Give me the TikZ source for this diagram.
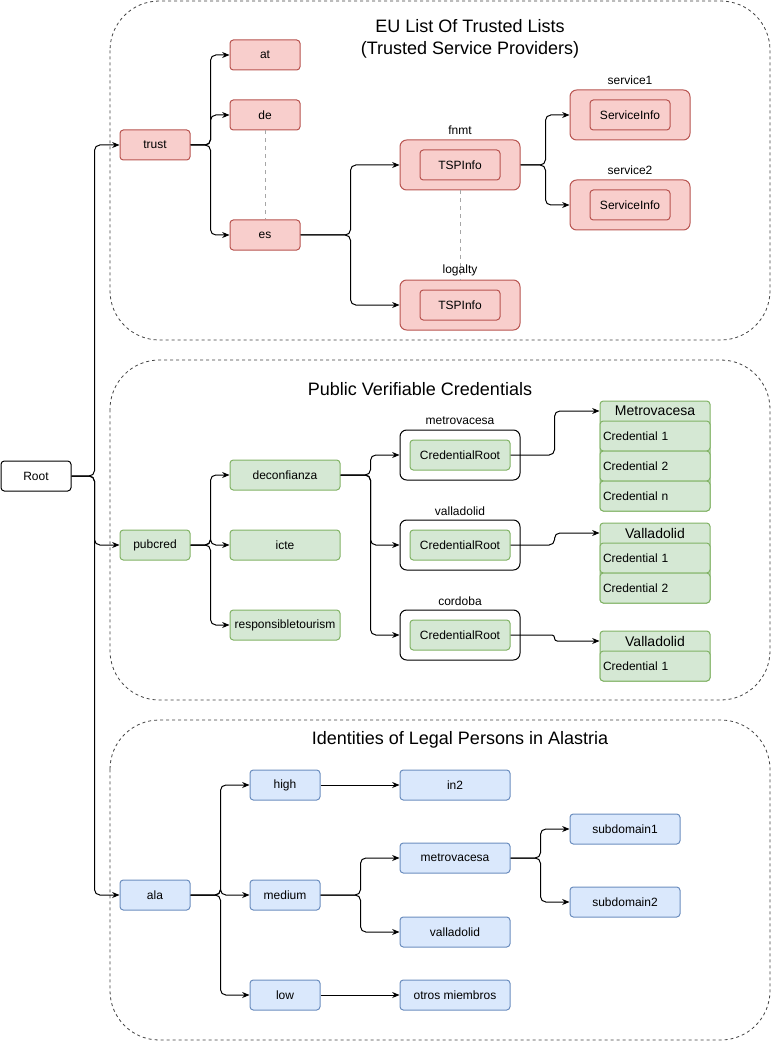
\documentclass[tikz,border=0pt]{standalone}
\usepackage{fontspec}
\setmainfont{Liberation Sans}
\usetikzlibrary{arrows.meta}
\definecolor{redfill}{HTML}{F8CECC}
\definecolor{redline}{HTML}{B85450}
\definecolor{greenfill}{HTML}{D5E8D4}
\definecolor{greenline}{HTML}{82B366}
\definecolor{bluefill}{HTML}{DAE8FC}
\definecolor{blueline}{HTML}{6C8EBF}
\begin{document}
\begin{tikzpicture}[x=0.75pt, y=-0.75pt, line width=0.75pt,
	font=\fontsize{9}{11}\selectfont,
	group/.style={draw=black!75, line width=0.6pt, dash pattern=on 2.25pt off 2.25pt, rounded corners=37pt},
	title/.style={font=\fontsize{13.5}{16.5}\selectfont, align=center},
	box/.style={draw, rounded corners=2.5pt, minimum height=22.5pt, inner sep=1pt},
	small/.style={box, minimum width=52.5pt},
	wide/.style={box, minimum width=82.5pt},
	outer/.style={draw, rounded corners=5pt, minimum width=90pt, minimum height=37.5pt},
	red/.style={draw=redline, fill=redfill},
	green/.style={draw=greenline, fill=greenfill},
	blue/.style={draw=blueline, fill=bluefill},
	row/.style={draw=greenline, fill=greenfill, rounded corners=2.5pt, minimum height=22.5pt,
		text width=78pt, inner xsep=2.25pt, align=left},
	head/.style={minimum width=82.5pt, minimum height=15pt, inner sep=0pt, font=\fontsize{10.5}{12}\selectfont},
	link/.style={-{Stealth[length=5.5pt, width=4.5pt]}, rounded corners=4pt},
	tie/.style={draw=gray!70, line width=0.5pt, dashed}
]
\useasboundingbox (0,0) rectangle (771,1041);

% groups
\draw[group] (110,1) rectangle (770,340);
\draw[group] (110,360) rectangle (770,700);
\draw[group] (110,720) rectangle (770,1040);
\node[title] (eutitle) at (470,39) {EU List Of Trusted Lists\\(Trusted Service Providers)};
\node[title] (pvtitle) at (420,389) {Public Verifiable Credentials};
\node[title] (idtitle) at (460,740) {Identities of Legal Persons in Alastria};

\node[small, fill=white] (root) at (36,476) {Root};

% trusted lists
\node[small, red] (trust) at (155,145) {trust};
\node[small, red] (tlat) at (265,55) {at};
\node[small, red] (tlde) at (265,115) {de};
\node[small, red] (tles) at (265,235) {es};
\draw[tie] (tlde.south) -- (tles.north);
\node[outer, red] (fnmt) at (460,165) {};
\node[box, red, minimum width=60pt] (fnmtinfo) at (460,165) {TSPInfo};
\node[outer, red] (logalty) at (460,305) {};
\node[box, red, minimum width=60pt] (logaltyinfo) at (460,305) {TSPInfo};
\draw[tie] (fnmt.south) -- (logalty.north);
\node (fnmtlab) at (460,130) {fnmt};
\node (logaltylab) at (460,270) {logalty};
\node[outer, red] (service1) at (630,115) {};
\node[box, red, minimum width=60pt] (service1info) at (630,115) {ServiceInfo};
\node (service1lab) at (630,80) {service1};
\node[outer, red] (service2) at (630,205) {};
\node[box, red, minimum width=60pt] (service2info) at (630,205) {ServiceInfo};
\node (service2lab) at (630,170) {service2};

% credentials
\node[small, green] (pubcred) at (155,545) {pubcred};
\node[wide, green] (deconfianza) at (285,475) {deconfianza};
\node[wide, green] (icte) at (285,545) {icte};
\node[wide, green] (resptour) at (285,625) {responsibletourism};
\node[outer, fill=white] (mvbox) at (460,455) {};
\node[box, green, minimum width=75pt] (mvroot) at (460,455) {CredentialRoot};
\node (mvlab) at (460,421) {metrovacesa};
\node[outer, fill=white] (vdbox) at (460,545) {};
\node[box, green, minimum width=75pt] (vdroot) at (460,545) {CredentialRoot};
\node (vdlab) at (460,511) {valladolid};
\node[outer, fill=white] (cdbox) at (460,635) {};
\node[box, green, minimum width=75pt] (cdroot) at (460,635) {CredentialRoot};
\node (cdlab) at (460,601) {cordoba};

\node[box, green, minimum width=82.5pt, minimum height=82.5pt] (mvlist) at (655,456) {};
\node[head] (mvhead) at (655,411) {Metrovacesa};
\node[row] (mvc1) at (655,436) {Credential 1};
\node[row] (mvc2) at (655,466) {Credential 2};
\node[row] (mvcn) at (655,496) {Credential n};
\node[box, green, minimum width=82.5pt, minimum height=60pt] (vdlist) at (655,563) {};
\node[head] (vdhead) at (655,533) {Valladolid};
\node[row] (vdc1) at (655,558) {Credential 1};
\node[row] (vdc2) at (655,588) {Credential 2};
\node[box, green, minimum width=82.5pt, minimum height=37.5pt] (cdlist) at (655,656) {};
\node[head] (cdhead) at (655,641) {Valladolid};
\node[row] (cdc1) at (655,666) {Credential 1};

% legal persons
\node[small, blue] (ala) at (155,895) {ala};
\node[small, blue] (high) at (285,785) {high};
\node[small, blue] (medium) at (285,895) {medium};
\node[small, blue] (low) at (285,995) {low};
\node[wide, blue] (in2) at (455,785) {in2};
\node[wide, blue] (metro) at (455,858) {metrovacesa};
\node[wide, blue] (valla) at (455,932) {valladolid};
\node[wide, blue] (otros) at (455,995) {otros miembros};
\node[wide, blue] (sub1) at (625,829) {subdomain1};
\node[wide, blue] (sub2) at (625,902) {subdomain2};

% connectors
\draw[link] (root.east) -- ++(23,0) |- (trust.west);
\draw[link] (root.east) -- ++(23,0) |- (pubcred.west);
\draw[link] (root.east) -- ++(23,0) |- (ala.west);

\draw[link] (trust.east) -- ++(20,0) |- (tlat.west);
\draw[link] (trust.east) -- ++(20,0) |- (tlde.west);
\draw[link] (trust.east) -- ++(20,0) |- (tles.west);
\draw[link] (tles.east) -- ++(50,0) |- (fnmt.west);
\draw[link] (tles.east) -- ++(50,0) |- (logalty.west);
\draw[link] (fnmt.east) -- ++(25,0) |- (service1.west);
\draw[link] (fnmt.east) -- ++(25,0) |- (service2.west);

\draw[link] (pubcred.east) -- ++(20,0) |- (deconfianza.west);
\draw[link] (pubcred.east) -- ++(20,0) |- (icte.west);
\draw[link] (pubcred.east) -- ++(20,0) |- (resptour.west);
\draw[link] (deconfianza.east) -- ++(30,0) |- (mvbox.west);
\draw[link] (deconfianza.east) -- ++(30,0) |- (vdbox.west);
\draw[link] (deconfianza.east) -- ++(30,0) |- (cdbox.west);
\draw[link] (mvroot.east) -- ++(44,0) |- (mvhead.west);
\draw[link] (vdroot.east) -- ++(44,0) |- (vdhead.west);
\draw[link, rounded corners=2pt] (cdroot.east) -- ++(44,0) |- (cdhead.west);

\draw[link] (ala.east) -- ++(30,0) |- (high.west);
\draw[link] (ala.east) -- ++(30,0) |- (medium.west);
\draw[link] (ala.east) -- ++(30,0) |- (low.west);
\draw[link] (high.east) -- (in2.west);
\draw[link] (medium.east) -- ++(40,0) |- (metro.west);
\draw[link] (medium.east) -- ++(40,0) |- (valla.west);
\draw[link] (metro.east) -- ++(30,0) |- (sub1.west);
\draw[link] (metro.east) -- ++(30,0) |- (sub2.west);
\draw[link] (low.east) -- (otros.west);
\end{tikzpicture}
\end{document}
